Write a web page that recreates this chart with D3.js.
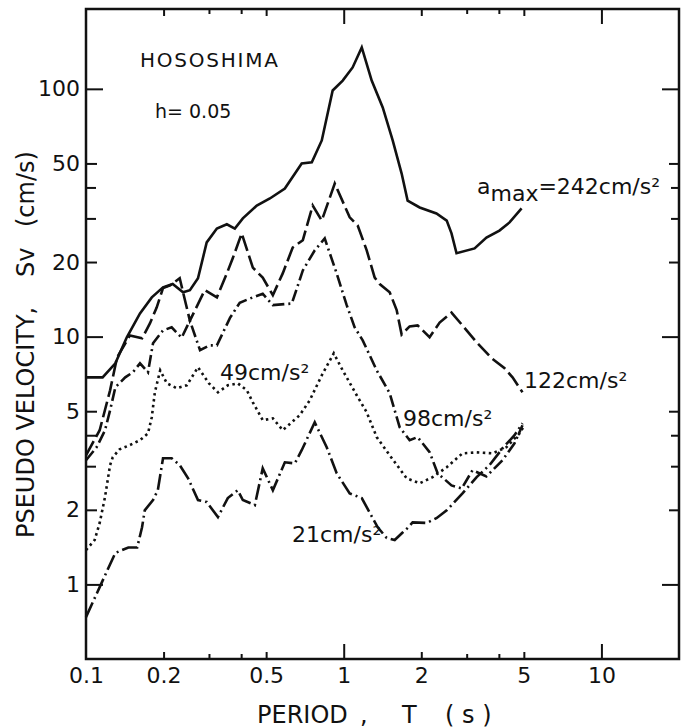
<!DOCTYPE html>
<html>
<head>
<meta charset="utf-8">
<script src="https://cdn.jsdelivr.net/npm/d3@7"></script>
<style>
  body { margin: 0; background: #fff; }
  text { font-family: 'DejaVu Sans', sans-serif; fill: #111; }
</style>
</head>
<body>
<div id="chart"></div>
<script>
// Tick values
const xLabels = [0.1, 0.2, 0.5, 1, 2, 5, 10];
const yLabels = [1, 2, 5, 10, 20, 50, 100];

// a_max = 242 cm/s2 (solid)
const t242 = [0.1, 0.116, 0.13, 0.144, 0.162, 0.18, 0.199, 0.217, 0.238, 0.253, 0.272, 0.294, 0.322, 0.352, 0.378, 0.406, 0.46, 0.517, 0.591, 0.687, 0.752, 0.822, 0.906, 0.991, 1.083, 1.175, 1.284, 1.417, 1.549, 1.678, 1.77, 1.971, 2.29, 2.51, 2.62, 2.74, 3.22, 3.58, 4.02, 4.4, 4.9];
const v242 = [6.85, 6.85, 7.8, 9.94, 12.4, 14.4, 15.8, 16.3, 15.1, 15.4, 17.2, 24.0, 27.3, 28.4, 27.3, 30.0, 33.8, 36.1, 39.6, 50.0, 50.5, 61.9, 98.5, 108, 122, 147, 108, 84.1, 61.9, 45.5, 35.4, 33.2, 31.4, 29.4, 26.1, 21.7, 22.7, 25.1, 26.8, 28.9, 32.9];

// 122 cm/s2 (long dash)
const t122 = [0.1, 0.113, 0.124, 0.132, 0.148, 0.165, 0.177, 0.188, 0.199, 0.212, 0.231, 0.253, 0.289, 0.322, 0.352, 0.371, 0.402, 0.444, 0.485, 0.531, 0.58, 0.634, 0.694, 0.758, 0.822, 0.923, 1.055, 1.133, 1.228, 1.319, 1.379, 1.508, 1.605, 1.678, 1.802, 1.935, 2.154, 2.356, 2.62, 2.89, 3.28, 3.75, 4.21, 4.52, 4.94];
const v122 = [3.32, 4.19, 6.07, 8.25, 10.1, 9.84, 11.3, 13.1, 15.7, 16.1, 17.2, 11.6, 15.4, 14.4, 18.0, 20.7, 26.1, 19.0, 17.3, 14.7, 18.0, 22.9, 24.5, 33.8, 29.4, 41.5, 30.3, 28.1, 22.3, 17.3, 16.3, 15.1, 12.8, 10.2, 11.0, 11.1, 9.94, 11.4, 12.5, 11.1, 9.49, 8.18, 7.45, 6.85, 5.96];

// 98 cm/s2 (dash-dot)
const t98 = [0.1, 0.11, 0.1185, 0.124, 0.13, 0.142, 0.152, 0.162, 0.174, 0.182, 0.199, 0.215, 0.235, 0.253, 0.277, 0.302, 0.322, 0.362, 0.395, 0.444, 0.485, 0.531, 0.629, 0.694, 0.772, 0.844, 0.939, 1.027, 1.103, 1.185, 1.343, 1.508, 1.577, 1.648, 1.802, 1.935, 2.154, 2.314, 2.62, 2.87, 3.16, 3.58, 4.13, 4.6, 4.94];
const v98 = [3.17, 3.58, 4.19, 5.04, 6.25, 6.85, 7.18, 7.8, 7.18, 9.4, 10.6, 10.9, 9.9, 11.6, 8.81, 9.22, 9.22, 11.9, 13.7, 14.4, 14.9, 13.4, 13.6, 18.5, 22.3, 24.9, 18.0, 13.4, 10.9, 9.66, 7.31, 5.91, 5.04, 4.31, 3.82, 3.93, 3.42, 2.81, 2.51, 2.44, 2.89, 2.73, 3.17, 3.71, 4.39];

// 49 cm/s2 (dotted)
const t49 = [0.1, 0.108, 0.113, 0.1185, 0.124, 0.127, 0.135, 0.148, 0.162, 0.174, 0.18, 0.185, 0.194, 0.206, 0.225, 0.246, 0.272, 0.3, 0.325, 0.355, 0.388, 0.421, 0.444, 0.485, 0.531, 0.58, 0.675, 0.738, 0.822, 0.915, 0.991, 1.123, 1.228, 1.343, 1.508, 1.755, 1.971, 2.213, 2.51, 2.89, 3.28, 3.78, 4.28, 4.81, 5.03];
const v49 = [1.375, 1.51, 1.77, 2.25, 3.03, 3.26, 3.51, 3.65, 3.82, 4.07, 4.73, 5.96, 7.31, 6.48, 6.19, 6.36, 7.52, 6.48, 5.96, 6.36, 6.48, 6.07, 5.43, 4.6, 4.68, 4.19, 4.82, 5.53, 6.98, 8.56, 7.31, 5.8, 4.95, 3.93, 3.32, 2.68, 2.56, 2.71, 2.97, 3.38, 3.41, 3.38, 3.58, 4.07, 4.39];

// 21 cm/s2 (long dash - dot)
const t21 = [0.1, 0.113, 0.121, 0.13, 0.146, 0.158, 0.165, 0.169, 0.182, 0.19, 0.199, 0.215, 0.231, 0.249, 0.272, 0.294, 0.325, 0.355, 0.388, 0.406, 0.452, 0.485, 0.531, 0.591, 0.646, 0.687, 0.772, 0.859, 0.939, 1.055, 1.175, 1.355, 1.468, 1.577, 1.693, 1.77, 1.851, 2.097, 2.29, 2.51, 2.89, 3.28, 3.68, 4.13, 4.6, 4.94];
const v21 = [0.738, 0.975, 1.14, 1.34, 1.41, 1.41, 1.7, 1.99, 2.19, 2.4, 3.23, 3.23, 3.03, 2.68, 2.19, 2.15, 1.87, 2.23, 2.4, 2.19, 2.09, 2.94, 2.4, 3.11, 3.08, 3.48, 4.51, 3.58, 2.81, 2.33, 2.23, 1.7, 1.54, 1.51, 1.62, 1.69, 1.78, 1.77, 1.85, 1.99, 2.33, 2.71, 3.03, 3.54, 4.0, 4.47];

const width = 687, height = 728;
const plot = {left: 86, right: 679, top: 9, bottom: 659};

const svg = d3.select('#chart')
  .append('svg')
    .attr('width', width)
    .attr('height', height);

// Log scales
const x = d3.scaleLog().domain([0.1, 20]).range([plot.left, plot.right]);
const y = d3.scaleLog().domain([0.5, 210]).range([plot.bottom, plot.top]);

// Inward tick marks on all four sides
function ticks(axis, vals, len, tx, ty) {
  svg.append('g')
    .attr('transform', `translate(${tx},${ty})`)
    .style('color', '#111')
    .call(axis.tickValues(vals).tickSize(-len).tickFormat(''))
    .call(g => g.select('.domain').remove())
    .selectAll('line').attr('stroke-width', 2);
}
ticks(d3.axisLeft(y), [1, 10, 100], 17, plot.left, 0);
ticks(d3.axisLeft(y), [2, 5, 20, 50], 11, plot.left, 0);
ticks(d3.axisLeft(y), [3, 4, 30, 40], 10, plot.left, 0);
ticks(d3.axisRight(y), [1, 10, 100], 17, plot.right, 0);
ticks(d3.axisRight(y), [2, 5, 20, 50], 10, plot.right, 0);
ticks(d3.axisRight(y), [3, 4, 30, 40], 8, plot.right, 0);
ticks(d3.axisBottom(x), [1, 10], 15, 0, plot.bottom);
ticks(d3.axisBottom(x), [0.2, 0.5, 2, 5], 7, 0, plot.bottom);
ticks(d3.axisBottom(x), [0.3, 0.4, 3, 4], 5, 0, plot.bottom);
ticks(d3.axisTop(x), [1, 10], 15, 0, plot.top);
ticks(d3.axisTop(x), [0.2, 0.5, 2, 5], 7, 0, plot.top);
ticks(d3.axisTop(x), [0.3, 0.4, 3, 4], 5, 0, plot.top);

// Tick labels
svg.append('g')
  .attr('transform', `translate(0,${plot.bottom})`)
  .call(d3.axisBottom(x).tickValues(xLabels).tickSize(0).tickPadding(8).tickFormat(d => String(d)))
  .call(g => g.select('.domain').remove())
  .attr('font-family', 'DejaVu Sans, sans-serif')
  .attr('font-size', 22);

svg.append('g')
  .attr('transform', `translate(${plot.left},0)`)
  .call(d3.axisLeft(y).tickValues(yLabels).tickSize(0).tickPadding(6).tickFormat(d => String(d)))
  .call(g => g.select('.domain').remove())
  .attr('font-family', 'DejaVu Sans, sans-serif')
  .attr('font-size', 22);

// Frame
svg.append('rect')
  .attr('x', plot.left)
  .attr('y', plot.top)
  .attr('width', plot.right - plot.left)
  .attr('height', plot.bottom - plot.top)
  .attr('fill', 'none')
  .attr('stroke', '#111')
  .attr('stroke-width', 2.5);

// Curves
const line = d3.line()
  .x(d => x(d[0]))
  .y(d => y(d[1]));

const series = [
  {t: t242, v: v242, dash: null},
  {t: t122, v: v122, dash: '16,5'},
  {t: t98, v: v98, dash: '12,4,2,4'},
  {t: t49, v: v49, dash: '2.5,3.5'},
  {t: t21, v: v21, dash: '16,4,2,4'}
];

series.forEach(s => {
  svg.append('path')
    .datum(d3.zip(s.t, s.v))
    .attr('fill', 'none')
    .attr('stroke', '#111')
    .attr('stroke-width', 2.6)
    .attr('stroke-dasharray', s.dash)
    .attr('d', line);
});

// Annotations
svg.append('text')
  .attr('x', 140).attr('y', 67)
  .attr('font-size', 20)
  .attr('textLength', 138)
  .text('HOSOSHIMA');

svg.append('text')
  .attr('x', 155).attr('y', 118)
  .attr('font-size', 19)
  .text('h= 0.05');

const amax = svg.append('text')
  .attr('x', 477).attr('y', 194)
  .attr('font-size', 22);
amax.append('tspan').text('a');
amax.append('tspan').attr('dy', 7).text('max');
amax.append('tspan').attr('dy', -7).text('=242cm/s²');

svg.append('text').attr('x', 524).attr('y', 388).attr('font-size', 22).text('122cm/s²');
svg.append('text').attr('x', 220).attr('y', 380).attr('font-size', 22).text('49cm/s²');
svg.append('text').attr('x', 403).attr('y', 426).attr('font-size', 22).text('98cm/s²');
svg.append('text').attr('x', 292).attr('y', 542).attr('font-size', 22).text('21cm/s²');

// Y axis title (rotated pieces)
[['PSEUDO VELOCITY,', 538], ['Sv', 277], ['(cm/s)', 227]].forEach(([s, yy]) => {
  svg.append('text')
    .attr('transform', `translate(34,${yy}) rotate(-90)`)
    .attr('font-size', 24)
    .text(s);
});

// X axis title
[['PERIOD', 257], [',', 360], ['T', 402], ['( s )', 445]].forEach(([s, xx]) => {
  svg.append('text')
    .attr('x', xx).attr('y', 723)
    .attr('font-size', 24)
    .text(s);
});
</script>
</body>
</html>
